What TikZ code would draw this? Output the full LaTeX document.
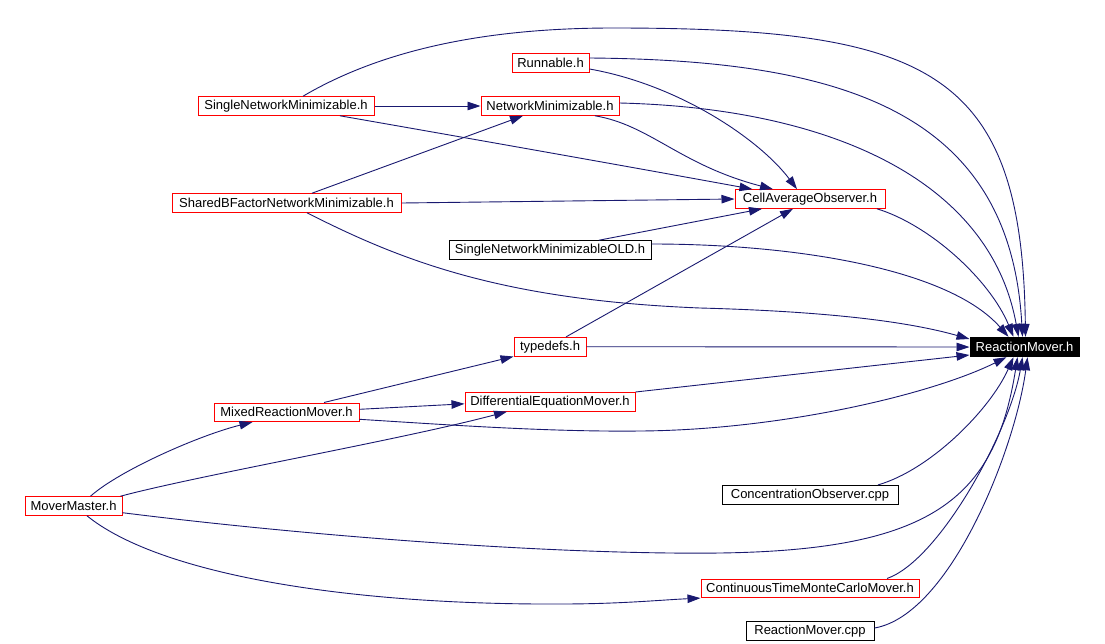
\documentclass[tikz,border=0pt]{standalone}
\usepackage{fontspec}
\setmainfont{Liberation Sans}
\usetikzlibrary{arrows.meta,calc}
\definecolor{navy}{HTML}{191970}
\definecolor{redb}{HTML}{FF0000}
\begin{document}
\begin{tikzpicture}[x=1pt,y=-1pt,
  file/.style={draw=redb, line width=1pt, inner sep=0pt, minimum height=18.6pt,
    font=\fontsize{13}{15}\selectfont, fill=white},
  plain/.style={file, draw=black},
  dep/.style={draw=navy, line width=0.9pt, -{Triangle[length=13pt,width=8.5pt]}}]
\useasboundingbox[fill=white] (0,0) rectangle (1105,643);

% nodes
\node[file, minimum width=77pt]  (runnable) at (550.5,63)   {Runnable.h};
\node[file, minimum width=176pt] (snm)      at (286,106)    {SingleNetworkMinimizable.h};
\node[file, minimum width=138pt] (nm)       at (550,106)    {NetworkMinimizable.h};
\node[file, minimum width=229pt] (shared)   at (286.5,203)  {SharedBFactorNetworkMinimizable.h};
\node[file, minimum width=150pt] (cao)      at (810,199)    {CellAverageObserver.h};
\node[plain, minimum width=202pt](old)      at (550,250)    {SingleNetworkMinimizableOLD.h};
\node[file, minimum width=72pt]  (typedefs) at (550,346.7)  {typedefs.h};
\node[draw=black, fill=black, text=white, line width=1pt, inner sep=0pt,
      minimum height=19.4pt, minimum width=109pt,
      font=\fontsize{13}{15}\selectfont] (rmh) at (1024.5,347) {ReactionMover.h};
\node[file, minimum width=145pt] (mixed)    at (286.5,412.3){MixedReactionMover.h};
\node[file, minimum width=170pt] (dem)      at (550,401.8)  {DifferentialEquationMover.h};
\node[file, minimum width=97pt]  (mover)    at (73.5,506)   {MoverMaster.h};
\node[plain, minimum width=176pt](conc)     at (810,494.7)  {ConcentrationObserver.cpp};
\node[file, minimum width=218pt] (ctmc)     at (810,588.3)  {ContinuousTimeMonteCarloMover.h};
\node[plain, minimum width=128pt](rmcpp)    at (810,631)    {ReactionMover.cpp};

% edges
\draw[dep] ($(snm.north)+(17,0)$) .. controls (390,45) and (500,28) .. (613,28)
           .. controls (930,28) and (1022,70) .. ($(rmh.north)+(1,0)$);
\draw[dep] (snm.east) -- (nm.west);
\draw[dep] ($(snm.south)+(54,0)$) .. controls (450,135) and (620,165) .. ($(cao.north west)+(18,0)$);
\draw[dep] ($(runnable.east)+(0,-5)$) .. controls (840,60) and (1010,110) .. ($(rmh.north)+(-2,0)$);
\draw[dep] ($(runnable.east)+(0,6)$) .. controls (680,85) and (760,140) .. ($(cao.north)+(-13,0)$);
\draw[dep] ($(nm.east)+(0,-3)$) .. controls (830,108) and (990,180) .. ($(rmh.north)+(-6,0)$);
\draw[dep] ($(nm.south)+(45,0)$) .. controls (650,125) and (680,165) .. ($(cao.north)+(-37,0)$);
\draw[dep] ($(shared.north)+(25.5,0)$) -- ($(nm.south)+(-27,0)$);
\draw[dep] (shared.east) -- (cao.west);
\draw[dep] ($(shared.south)+(20.5,0)$) .. controls (400,260) and (500,300) .. (700,308)
           .. controls (850,312) and (920,325) .. ($(rmh.west)+(0,-8)$);
\draw[dep] ($(old.north)+(49,0)$) -- ($(cao.south)+(-48,0)$);
\draw[dep] ($(old.east)+(0,-6)$) .. controls (800,244) and (950,270) .. ($(rmh.north)+(-16,0)$);
\draw[dep] ($(typedefs.north)+(16,0)$) -- ($(cao.south)+(-17,0)$);
\draw[dep] (typedefs.east) -- (rmh.west);
\draw[dep] ($(cao.south)+(67,0)$) .. controls (930,225) and (990,280) .. ($(rmh.north)+(-11,0)$);
\draw[dep] ($(mixed.north)+(37.5,0)$) -- (typedefs.south west);
\draw[dep] ($(mixed.east)+(0,-3)$) -- ($(dem.west)+(0,2)$);
\draw[dep] ($(mixed.east)+(0,7)$) .. controls (450,425) and (550,432) .. (640,431)
           .. controls (780,430) and (930,395) .. ($(rmh.south)+(-18,0)$);
\draw[dep] (dem.north east) -- ($(rmh.west)+(0,8)$);
\draw[dep] ($(mover.north)+(17,0)$) .. controls (120,470) and (200,435) .. ($(mixed.south)+(-34,0)$);
\draw[dep] ($(mover.north east)+(-2,0)$) .. controls (200,475) and (400,440) .. ($(dem.south)+(-43,0)$);
\draw[dep] ($(mover.east)+(0,6.7)$) .. controls (300,535) and (550,555) .. (720,553)
           .. controls (930,550) and (995,500) .. ($(rmh.south)+(-7,0)$);
\draw[dep] ($(mover.south)+(13.5,0)$) .. controls (160,575) and (350,605) .. (560,604)
           .. controls (620,604) and (660,600) .. (ctmc.south west);
\draw[dep] ($(conc.north)+(68,0)$) .. controls (930,470) and (990,410) .. ($(rmh.south)+(-11,0)$);
\draw[dep] ($(ctmc.north)+(77,0)$) .. controls (940,560) and (1010,430) .. ($(rmh.south)+(-2,0)$);
\draw[dep] ($(rmcpp.east)+(0,-3)$) .. controls (950,615) and (1015,450) .. ($(rmh.south)+(3,0)$);
\end{tikzpicture}
\end{document}
